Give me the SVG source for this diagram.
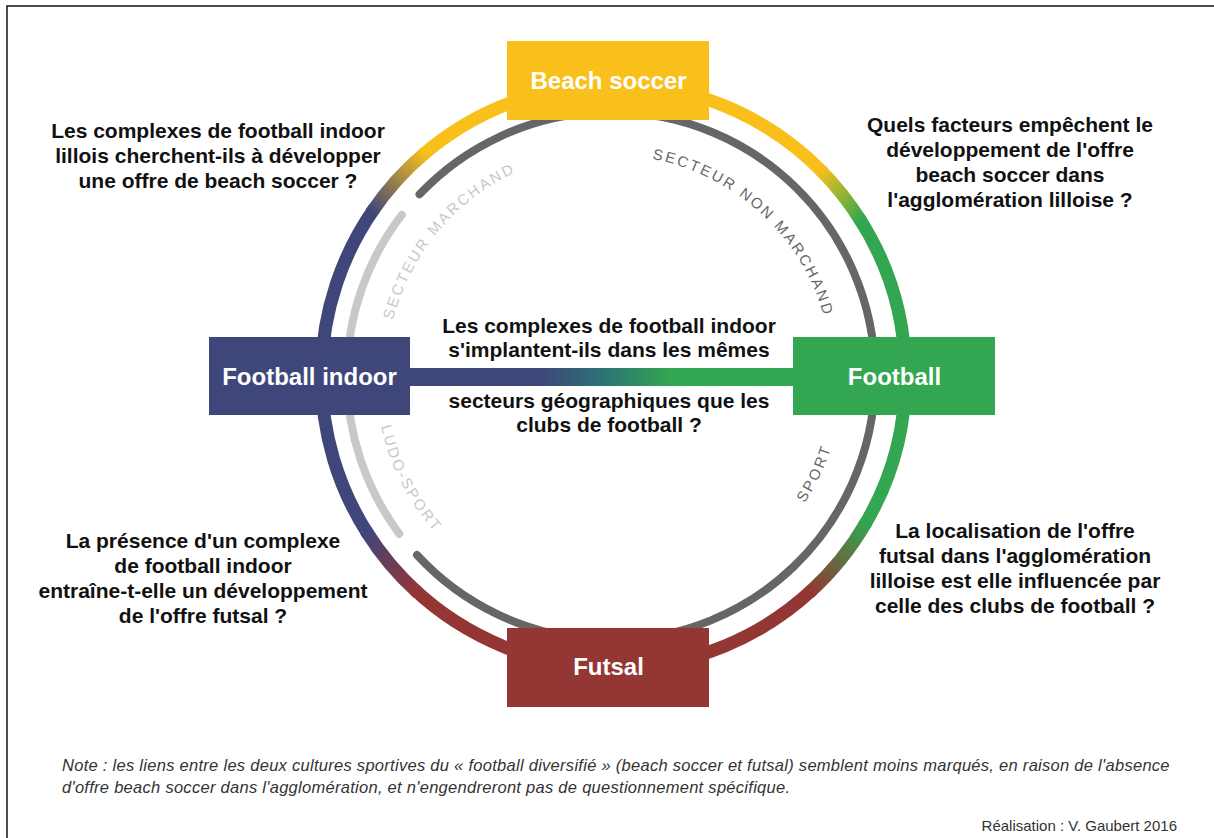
<svg xmlns="http://www.w3.org/2000/svg" xmlns:xlink="http://www.w3.org/1999/xlink" width="1214" height="838" viewBox="0 0 1214 838">
  <style>
    .q{font-family:"Liberation Sans",Arial,sans-serif;font-weight:bold;font-size:21px;fill:#111;text-anchor:middle}
    .lbl{font-family:"Liberation Sans",Arial,sans-serif;font-weight:bold;font-size:24px;fill:#fff;text-anchor:middle}
    .arcl{font-family:"Liberation Sans",Arial,sans-serif;font-size:15px;letter-spacing:2.3px}
    .note{font-family:"Liberation Sans",Arial,sans-serif;font-style:italic;font-size:16.5px;letter-spacing:0.28px;fill:#333}
    .credit{font-family:"Liberation Sans",Arial,sans-serif;font-size:15px;fill:#333;text-anchor:end}
    .ring{fill:none;stroke-width:13;stroke-linecap:butt}
    .inner{fill:none;stroke-width:8;stroke-linecap:round}
  </style>
  <defs>
    <linearGradient id="gNY" gradientUnits="userSpaceOnUse" x1="371.4" y1="212.7" x2="425.8" y2="152.3">
      <stop offset="0" stop-color="#3E467A"/><stop offset="1" stop-color="#F9C01C"/>
    </linearGradient>
    <linearGradient id="gYG" gradientUnits="userSpaceOnUse" x1="820" y1="169.5" x2="861.1" y2="221.3">
      <stop offset="0" stop-color="#F9C01C"/><stop offset="1" stop-color="#32A650"/>
    </linearGradient>
    <linearGradient id="gGR" gradientUnits="userSpaceOnUse" x1="866.4" y1="522" x2="808.9" y2="593">
      <stop offset="0" stop-color="#32A650"/><stop offset="1" stop-color="#943634"/>
    </linearGradient>
    <linearGradient id="gRN" gradientUnits="userSpaceOnUse" x1="418.1" y1="593" x2="365.9" y2="530.7">
      <stop offset="0" stop-color="#943634"/><stop offset="1" stop-color="#3E467A"/>
    </linearGradient>
    <linearGradient id="gBar" gradientUnits="userSpaceOnUse" x1="540" y1="0" x2="670" y2="0">
      <stop offset="0" stop-color="#3E467A"/><stop offset="0.5" stop-color="#2C7474"/><stop offset="1" stop-color="#32A650"/>
    </linearGradient>
    <path id="pMarchand" d="M389.4,415.1 A225,225 0 0 1 609,151"/>
    <path id="pNonMarchand" d="M582.7,156.8 A221,221 0 0 1 831.8,386.2"/>
    <path id="pLudo" d="M381.4,323.4 A235.5,235.5 0 0 0 519.4,592.9"/>
    <path id="pSport" d="M742,566.9 A231.5,231.5 0 0 0 841.8,358"/>
  </defs>

  <rect x="7" y="6" width="1230" height="860" fill="#fff" stroke="#000" stroke-width="1.4"/>

  <g id="connectors">
    <!-- outer ring: solid segments -->
    <path class="ring" stroke="#F9C01C" d="M421.9,155.6 A292,292 0 0 1 823.5,173.1"/>
    <path class="ring" stroke="#32A650" d="M858.4,217 A292,292 0 0 1 863.8,526.4"/>
    <path class="ring" stroke="#943634" d="M812.6,589.6 A292,292 0 0 1 414.4,589.6"/>
    <path class="ring" stroke="#3E467A" d="M368.6,535 A292,292 0 0 1 374.3,208.5"/>
    <!-- outer ring: gradient transitions -->
    <path class="ring" stroke="url(#gNY)" d="M371.4,212.7 A292,292 0 0 1 425.8,152.3"/>
    <path class="ring" stroke="url(#gYG)" d="M820,169.5 A292,292 0 0 1 861.1,221.3"/>
    <path class="ring" stroke="url(#gGR)" d="M866.4,522 A292,292 0 0 1 808.9,593"/>
    <path class="ring" stroke="url(#gRN)" d="M418.1,593 A292,292 0 0 1 365.9,530.7"/>
    <!-- inner arcs -->
    <path class="inner" stroke="#666666" d="M419.5,194.3 A264,264 0 1 1 417,555"/>
    <path class="inner" stroke="#C8C8C8" d="M399.3,533.8 A264,264 0 0 1 401.8,214.9"/>
    <!-- arc labels -->
    <text class="arcl" fill="#C8C8C8"><textPath xlink:href="#pMarchand" href="#pMarchand" startOffset="50%" text-anchor="middle">SECTEUR MARCHAND</textPath></text>
    <text class="arcl" fill="#666666"><textPath xlink:href="#pNonMarchand" href="#pNonMarchand" startOffset="50%" text-anchor="middle">SECTEUR NON MARCHAND</textPath></text>
    <text class="arcl" fill="#C8C8C8"><textPath xlink:href="#pLudo" href="#pLudo" startOffset="50%" text-anchor="middle">LUDO-SPORT</textPath></text>
    <text class="arcl" fill="#666666"><textPath xlink:href="#pSport" href="#pSport" startOffset="50%" text-anchor="middle">SPORT</textPath></text>
    <!-- central bar -->
    <rect x="405" y="368" width="392" height="18" fill="url(#gBar)"/>
  </g>

  <g id="beach-soccer">
    <rect x="507" y="41" width="202" height="79" fill="#F9C01C"/>
    <text class="lbl" x="608.5" y="89">Beach soccer</text>
  </g>
  <g id="futsal">
    <rect x="507" y="628" width="202" height="79" fill="#943634"/>
    <text class="lbl" x="608.5" y="675">Futsal</text>
  </g>
  <g id="football-indoor">
    <rect x="209" y="337" width="201" height="78" fill="#3E467A"/>
    <text class="lbl" x="309.5" y="385">Football indoor</text>
  </g>
  <g id="football">
    <rect x="793" y="337" width="202" height="78" fill="#32A650"/>
    <text class="lbl" x="894.5" y="385">Football</text>
  </g>

  <g id="questions">
    <text class="q" x="218" y="138">Les complexes de football indoor</text>
    <text class="q" x="218" y="163">lillois cherchent-ils à développer</text>
    <text class="q" x="218" y="188">une offre de beach soccer ?</text>

    <text class="q" x="1010" y="132">Quels facteurs empêchent le</text>
    <text class="q" x="1010" y="157">développement de l'offre</text>
    <text class="q" x="1010" y="182">beach soccer dans</text>
    <text class="q" x="1010" y="207">l'agglomération lilloise ?</text>

    <text class="q" x="609" y="333">Les complexes de football indoor</text>
    <text class="q" x="609" y="357">s'implantent-ils dans les mêmes</text>
    <text class="q" x="609" y="408">secteurs géographiques que les</text>
    <text class="q" x="609" y="432">clubs de football ?</text>

    <text class="q" x="203" y="548">La présence d'un complexe</text>
    <text class="q" x="203" y="573">de football indoor</text>
    <text class="q" x="203" y="598">entraîne-t-elle un développement</text>
    <text class="q" x="203" y="623">de l'offre futsal ?</text>

    <text class="q" x="1015" y="538">La localisation de l'offre</text>
    <text class="q" x="1015" y="563">futsal dans l'agglomération</text>
    <text class="q" x="1015" y="588">lilloise est elle influencée par</text>
    <text class="q" x="1015" y="613">celle des clubs de football ?</text>
  </g>

  <g id="note">
    <text class="note" x="62" y="771">Note : les liens entre les deux cultures sportives du « football diversifié » (beach soccer et futsal) semblent moins marqués, en raison de l'absence</text>
    <text class="note" x="62" y="793">d'offre beach soccer dans l'agglomération, et n'engendreront pas de questionnement spécifique.</text>
    <text class="credit" x="1177" y="831">Réalisation : V. Gaubert 2016</text>
  </g>
</svg>
